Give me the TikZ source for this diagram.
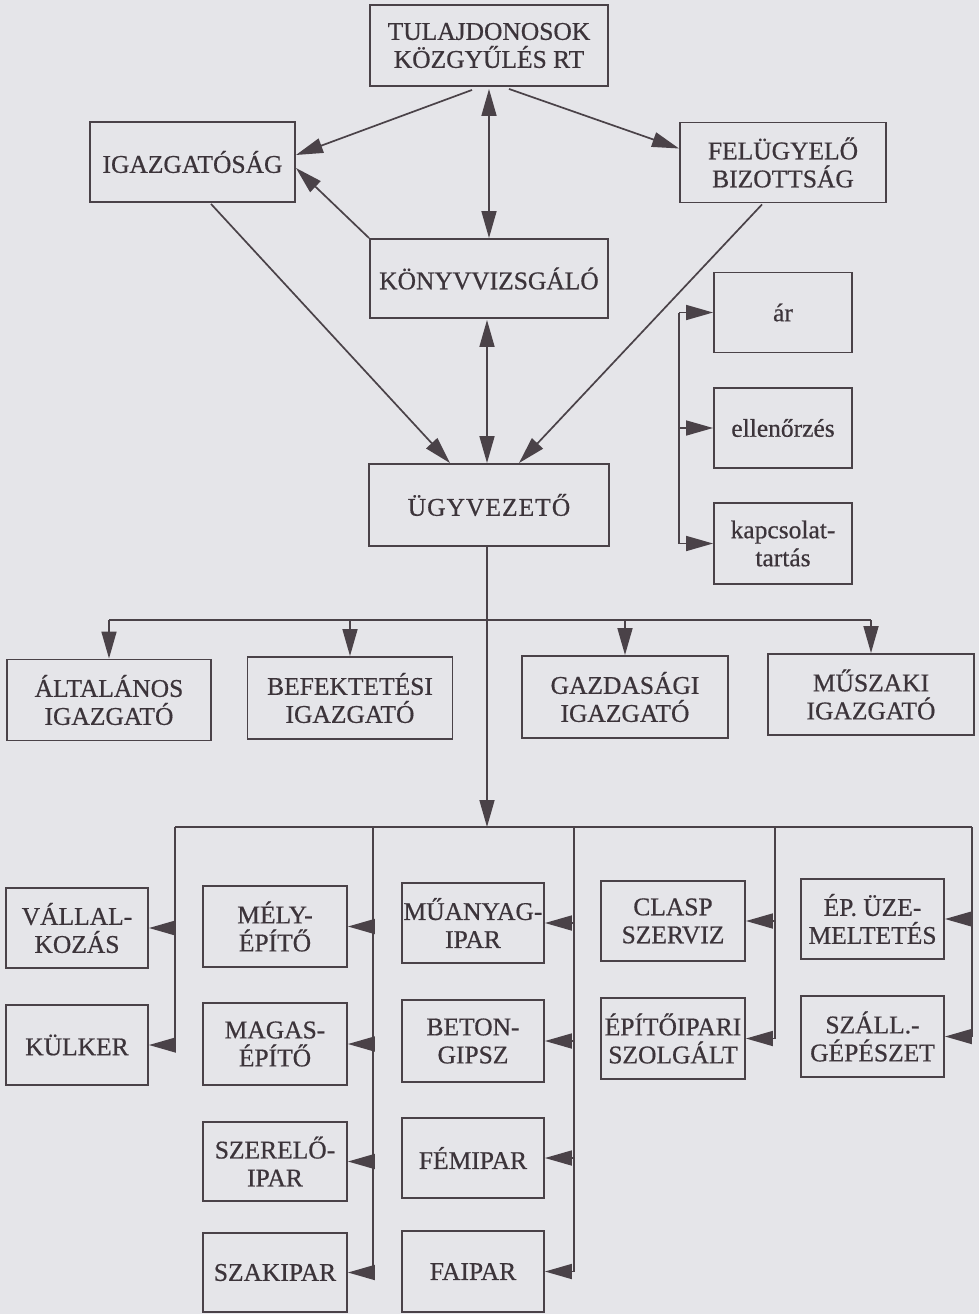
\documentclass[tikz,border=0pt]{standalone}
\usepackage{fontspec}
\setmainfont[FakeBold=0.6]{Liberation Serif}
\usetikzlibrary{arrows.meta}
\definecolor{paper}{RGB}{229,229,233}
\definecolor{ink}{RGB}{60,52,58}
\definecolor{wire}{RGB}{74,66,72}
\begin{document}
\begin{tikzpicture}[x=1pt,y=-1pt,
  box/.style={draw=wire,line width=1.9pt,text=ink,align=center,inner sep=0pt,
    font=\fontsize{25.5}{28}\selectfont},
  wide/.style={box,minimum width=238pt,minimum height=81pt},
  side/.style={box,minimum width=205pt,minimum height=80pt},
  small/.style={box,minimum width=138pt,minimum height=80pt},
  unit/.style={box,minimum width=143pt,minimum height=80pt},
  link/.style={draw=wire,line width=1.7pt},
  arr/.style={link,-{Triangle[length=27pt,width=15pt]}},
  darr/.style={link,{Triangle[length=27pt,width=15pt]}-{Triangle[length=27pt,width=15pt]}}]

% page
\fill[paper] (0,0) rectangle (979,1314);
\useasboundingbox (0,0) rectangle (979,1314);

% upper management
\node[wide] (tul) at (489,45.5) {TULAJDONOSOK\\KÖZGYŰLÉS RT};
\node[side] (igaz) at (192.5,162) {IGAZGATÓSÁG};
\node[side,minimum width=206pt] (felu) at (783,162.5) {FELÜGYELŐ\\BIZOTTSÁG};
\node[wide,minimum height=79pt] (konyv) at (489,278.5) {KÖNYVVIZSGÁLÓ};
\node[wide,minimum width=240pt,minimum height=82pt] (ugyv) at (489,505)
  {\addfontfeature{LetterSpace=4}ÜGYVEZETŐ};

% control functions
\node[small] (ar) at (783,312.5) {ár};
\node[small] (ell) at (783,428) {ellenőrzés};
\node[small,minimum height=81pt] (kap) at (783,543.5) {kapcsolat-\\tartás};

% directors
\node[side,minimum width=204pt,minimum height=81pt] (alt) at (109,700) {ÁLTALÁNOS\\IGAZGATÓ};
\node[side,minimum height=82pt] (bef) at (350,698) {BEFEKTETÉSI\\IGAZGATÓ};
\node[side,minimum width=206pt,minimum height=82pt] (gazd) at (625,697) {GAZDASÁGI\\IGAZGATÓ};
\node[side,minimum width=206pt,minimum height=81pt] (musz) at (871,694.5) {MŰSZAKI\\IGAZGATÓ};

% business units
\node[unit,minimum width=142pt] (vall) at (77,928) {VÁLLAL-\\KOZÁS};
\node[unit,minimum width=142pt] (kulk) at (77,1045) {KÜLKER};
\node[unit,minimum width=144pt,minimum height=81pt] (mely) at (275,926.5) {MÉLY-\\ÉPÍTŐ};
\node[unit,minimum width=144pt,minimum height=82pt] (magas) at (275,1044) {MAGAS-\\ÉPÍTŐ};
\node[unit,minimum width=144pt,minimum height=79pt] (szer) at (275,1161.5) {SZERELŐ-\\IPAR};
\node[unit,minimum width=144pt,minimum height=79pt] (szak) at (275,1272.5) {SZAKIPAR};
\node[unit,minimum width=142pt] (muany) at (473,923) {MŰANYAG-\\IPAR};
\node[unit,minimum width=142pt,minimum height=82pt] (beton) at (473,1041) {BETON-\\GIPSZ};
\node[unit,minimum width=142pt] (fem) at (473,1158) {FÉMIPAR};
\node[unit,minimum width=142pt,minimum height=81pt] (fai) at (473,1271.5) {FAIPAR};
\node[unit,minimum width=144pt] (clasp) at (673,921) {CLASP\\SZERVIZ};
\node[unit,minimum width=144pt,minimum height=81pt] (epito) at (673,1038.5) {ÉPÍTŐIPARI\\SZOLGÁLT};
\node[unit] (epuz) at (872.5,919) {ÉP. ÜZE-\\MELTETÉS};
\node[unit,minimum height=81pt] (szall) at (872.5,1036.5) {SZÁLL.-\\GÉPÉSZET};

% owners' relations
\draw[arr] ([xshift=-17pt,yshift=-3pt]tul.south) -- ([yshift=7pt]igaz.east);
\draw[arr] ([xshift=20pt,yshift=-2pt]tul.south) -- ([yshift=14pt]felu.west);
\draw[darr] ([yshift=-2pt]tul.south) -- (konyv.north);
\draw[arr] (konyv.north west) -- ([yshift=-6pt]igaz.east);
\draw[arr] ([xshift=18.5pt,yshift=-1pt]igaz.south) -- ([xshift=-39pt]ugyv.north);
\draw[darr] ([xshift=-2pt,yshift=-1pt]konyv.south) -- ([xshift=-2pt]ugyv.north);
\draw[arr] ([xshift=-21pt,yshift=-1pt]felu.south) -- ([xshift=30pt]ugyv.north);

% control bracket
\coordinate (brT) at (679,312.5);
\coordinate (brB) at (679,543.5);
\draw[link] (brT) -- (brB);
\draw[arr] (brT) -- (ar.west);
\draw[arr] (brT |- ell.west) -- (ell.west);
\draw[arr] (brB) -- (kap.west);

% directors' bus
\coordinate (busA) at (109,620);
\coordinate (busB) at (871,620);
\draw[link] (busA) -- (busB);
\draw[arr] (busA) -- (alt.north);
\draw[arr] (bef.north |- busA) -- (bef.north);
\draw[arr] (gazd.north |- busA) -- (gazd.north);
\draw[arr] (busB) -- (musz.north);

% units' bus
\coordinate (ubus) at (487,827);
\draw[arr] ([xshift=-2pt]ugyv.south) -- (ubus);
\coordinate (c1) at (175,827);
\coordinate (c2) at (373,827);
\coordinate (c3) at (574,827);
\coordinate (c4) at (775,827);
\coordinate (c5) at (972,827);
\draw[link] (c1) -- (c5);
\draw[link] (c1) -- (c1 |- kulk.east);
\draw[link] (c2) -- (c2 |- szak.east);
\draw[link] (c3) -- (c3 |- fai.east);
\draw[link] (c4) -- (c4 |- epito.east);
\draw[link] (c5) -- (c5 |- szall.east);

\draw[arr] (c1 |- vall.east) -- (vall.east);
\draw[arr] (c1 |- kulk.east) -- (kulk.east);
\draw[arr] (c2 |- mely.east) -- (mely.east);
\draw[arr] (c2 |- magas.east) -- (magas.east);
\draw[arr] (c2 |- szer.east) -- (szer.east);
\draw[arr] (c2 |- szak.east) -- (szak.east);
\draw[arr] (c3 |- muany.east) -- (muany.east);
\draw[arr] (c3 |- beton.east) -- (beton.east);
\draw[arr] (c3 |- fem.east) -- (fem.east);
\draw[arr] (c3 |- fai.east) -- (fai.east);
\draw[arr] (c4 |- clasp.east) -- (clasp.east);
\draw[arr] (c4 |- epito.east) -- (epito.east);
\draw[arr] (c5 |- epuz.east) -- (epuz.east);
\draw[arr] (c5 |- szall.east) -- (szall.east);
\end{tikzpicture}
\end{document}
